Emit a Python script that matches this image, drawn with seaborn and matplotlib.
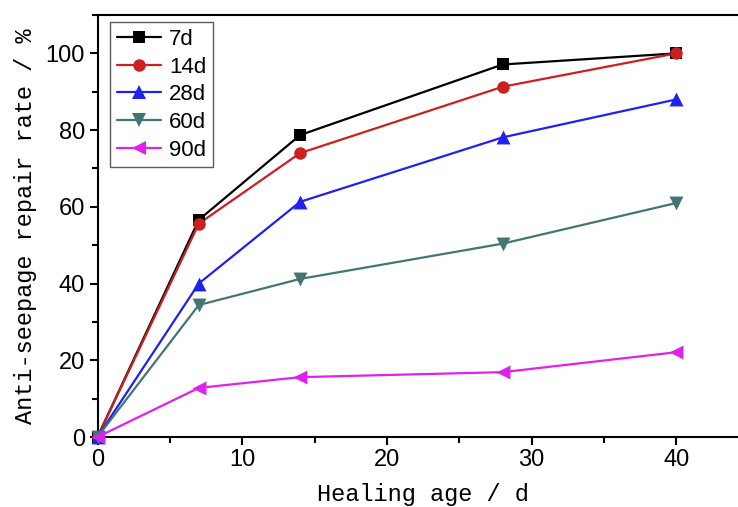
import matplotlib
matplotlib.use("Agg")
import matplotlib.pyplot as plt
import seaborn as sns
import pandas as pd
from matplotlib.ticker import MultipleLocator
from matplotlib.lines import Line2D

sns.set_style("ticks")
plt.rcParams["text.color"] = "black"
plt.rcParams["xtick.color"] = "black"
plt.rcParams["ytick.color"] = "black"
plt.rcParams["axes.labelcolor"] = "black"

healing_age = [0, 7, 14, 28, 40]
series_names = ["7d", "14d", "28d", "60d", "90d"]
s7 = [0, 56.6, 78.7, 97.1, 100.0]
s14 = [0, 55.6, 74.0, 91.3, 100.0]
s28 = [0, 40.0, 61.3, 78.1, 88.0]
s60 = [0, 34.4, 41.2, 50.4, 61.0]
s90 = [0, 12.8, 15.6, 16.9, 22.1]
all_series = [s7, s14, s28, s60, s90]

colors = {"7d": "#000000", "14d": "#CC2020", "28d": "#2020F0",
          "60d": "#447575", "90d": "#DD22EE"}
markers = {"7d": "s", "14d": "o", "28d": "^", "60d": "v", "90d": "<"}
msizes = {"7d": 8, "14d": 9, "28d": 10, "60d": 10, "90d": 10}

rows = []
for name, vals in zip(series_names, all_series):
    for x, y in zip(healing_age, vals):
        rows.append({"age": x, "rate": y, "series": name})
df = pd.DataFrame(rows)

W, H = 738, 507
fig = plt.figure(figsize=(W / 100, H / 100), dpi=100)
x0, x1 = 97.5, 97.5 + 45 * 14.47
y0, y1 = 437, 15
ax = fig.add_axes([x0 / W, (H - y0) / H, (x1 - x0) / W, (y0 - y1) / H])

sns.lineplot(data=df, x="age", y="rate", hue="series",
             hue_order=series_names, palette=colors, linewidth=1.6,
             ax=ax, legend=False, clip_on=False)
for name in series_names:
    sub = df[df["series"] == name]
    sns.scatterplot(data=sub, x="age", y="rate", color=colors[name],
                    marker=markers[name], s=msizes[name] ** 2, linewidth=0,
                    ax=ax, legend=False, clip_on=False, zorder=3)

ax.set_xlim(0, 45)
ax.set_ylim(0, 110)
ax.xaxis.set_major_locator(MultipleLocator(10))
ax.xaxis.set_minor_locator(MultipleLocator(5))
ax.set_yticks([0, 20, 40, 60, 80, 100])
ax.yaxis.set_minor_locator(MultipleLocator(10))
ax.tick_params(which="major", direction="out", length=6, width=1.5,
               labelsize=17, pad=3)
ax.tick_params(which="minor", direction="out", length=4, width=1.5)
for lab in ax.get_xticklabels() + ax.get_yticklabels():
    lab.set_family(["Liberation Sans Narrow", "Liberation Sans"])
for sp in ax.spines.values():
    sp.set_linewidth(1.5)
    sp.set_color("black")

ax.set_xlabel("Healing age / d", family="Liberation Mono", fontsize=17,
              labelpad=8)
ax.set_ylabel("Anti-seepage repair rate / %", family="Liberation Mono",
              fontsize=17, labelpad=6)

handles = [Line2D([], [], color=colors[n], marker=markers[n],
                  markersize=msizes[n], markeredgewidth=0, linewidth=1.6)
           for n in series_names]
leg = ax.legend(handles, series_names, loc="upper left",
                bbox_to_anchor=(0.019, 0.983), borderaxespad=0,
                frameon=True, fancybox=False, edgecolor="#333333",
                handlelength=2.0, labelspacing=0.3, borderpad=0.3,
                handletextpad=0.35,
                prop={"family": "Liberation Sans", "size": 16})
leg.get_frame().set_linewidth(1.0)

fig.savefig("out.png", dpi=100)
